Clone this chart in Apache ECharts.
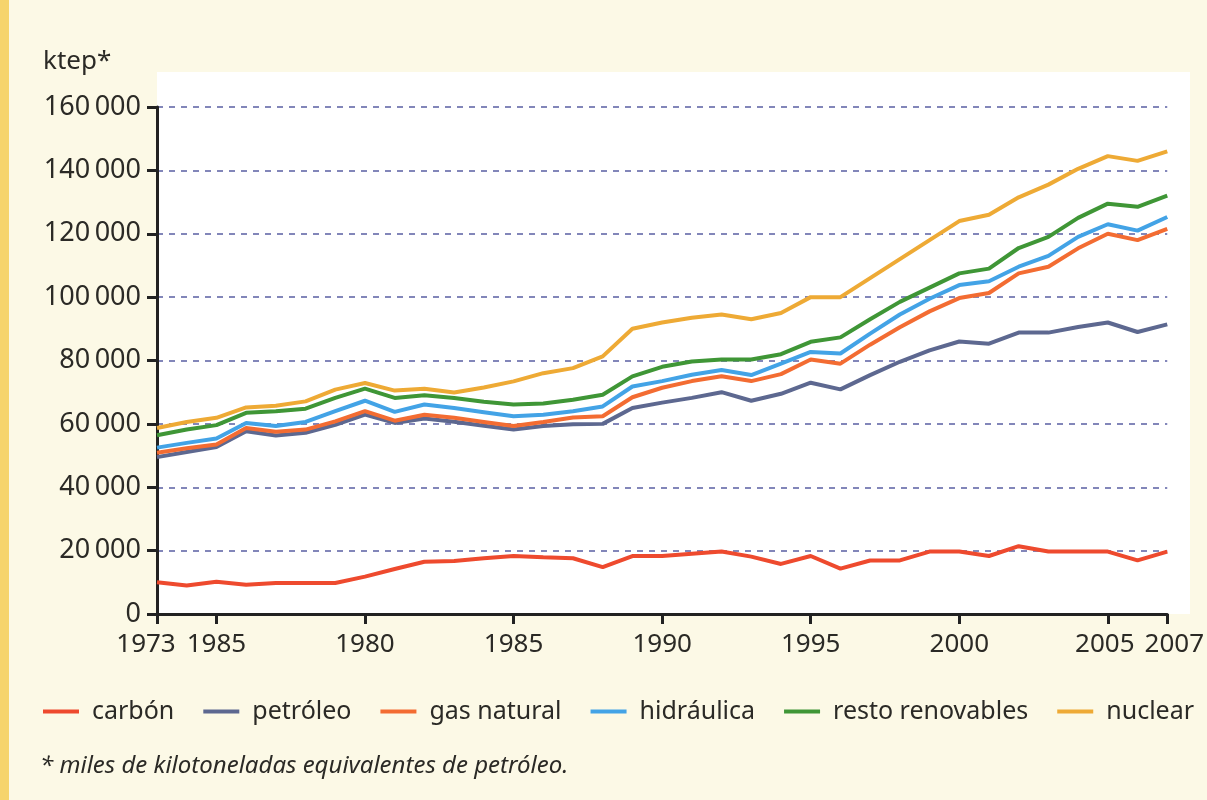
<!DOCTYPE html>
<html>
<head>
<meta charset="utf-8">
<script src="https://cdn.jsdelivr.net/npm/echarts@6/dist/echarts.min.js"></script>
<style>
html,body{margin:0;padding:0;background:#fcf9e6;}
#c{width:1207px;height:800px;}
</style>
</head>
<body>
<div id="c"></div>
<script>
const years = ['1973','1974','1975','1976','1977','1978','1979','1980','1981','1982','1983','1984','1985','1986','1987','1988','1989','1990','1991','1992','1993','1994','1995','1996','1997','1998','1999','2000','2001','2002','2003','2004','2005','2006','2007'];
// tick labels as printed in the original (index -> label)
const tickLabels = {0:'1973',2:'1985',7:'1980',12:'1985',17:'1990',22:'1995',27:'2000',32:'2005',34:'2007'};
const seriesNames = ['carbón','petróleo','gas natural','hidráulica','resto renovables','nuclear'];
const carbon = [10000,9000,10200,9200,9800,9800,9800,11800,14200,16500,16700,17600,18300,17900,17600,14800,18300,18300,19000,19700,18100,15800,18300,14300,16900,16900,19700,19700,18300,21400,19700,19700,19700,16900,19700];
const petroleo = [49500,51100,52700,57700,56300,57200,59700,62900,60300,61700,60700,59400,58200,59300,59900,60000,65000,66700,68200,70000,67300,69500,73000,70900,75400,79600,83200,86000,85300,88800,88800,90600,92000,89000,91400];
const gasNatural = [50900,52300,53500,58700,57500,58200,60800,64000,61000,62900,61900,60600,59300,60600,62000,62400,68400,71400,73500,75000,73500,75700,80300,79000,85000,90500,95500,99700,101300,107500,109600,115400,120000,118000,121500];
const hidraulica = [52500,54000,55400,60300,59300,60600,64000,67300,63800,66100,65000,63700,62400,62900,64000,65500,71800,73500,75500,77000,75400,79000,82700,82200,88500,94500,99500,103800,105000,109600,113000,119000,123000,121000,125300];
const restoRenovables = [56400,58200,59600,63500,64000,64800,68200,71100,68200,69000,68200,67000,66100,66400,67600,69200,75000,78000,79700,80300,80300,82000,85900,87300,93000,98500,103000,107500,109000,115500,119000,125000,129500,128500,132000];
const nuclear = [58700,60600,61900,65200,65700,67100,70800,72900,70500,71100,69900,71500,73400,76000,77600,81300,90000,92000,93500,94500,93000,95000,100000,100000,106000,112000,118000,124000,126000,131500,135500,140500,144500,143000,146000];
const yTicks = [0,20000,40000,60000,80000,100000,120000,140000,160000];

const colors = ['#ee4a2e','#5d6890','#f36c32','#43a3e6','#3f9636','#eeaa35'];
const dataSets = [carbon, petroleo, gasNatural, hidraulica, restoRenovables, nuclear];
const FONT = '"Noto Sans", "Open Sans", sans-serif';
const LBL = {fontFamily: FONT, fontSize: 26, color: '#2b2a26'};

const chart = echarts.init(document.getElementById('c'));
chart.setOption({
  backgroundColor: '#fcf9e6',
  animation: false,
  graphic: [
    {type:'rect', left:0, top:0, shape:{x:0,y:0,width:9,height:800}, style:{fill:'#f6d46c'}, z:-10},
    {type:'rect', shape:{x:157,y:72,width:1033,height:542}, style:{fill:'#ffffff'}, z:-5}
  ],
  title: {
    text: 'ktep*', left: 38, top: 44,
    textStyle: {fontFamily: FONT, fontSize: 26, fontWeight: 'normal', color: '#2b2a26'}
  },
  grid: {left: 157, right: 39, top: 107, bottom: 186, containLabel: false},
  legend: {
    left: 38, top: 694, itemWidth: 36, itemHeight: 4, itemGap: 29, icon: 'rect',
    data: seriesNames,
    textStyle: {fontFamily: FONT, fontSize: 25, color: '#2b2a26', padding: [0,0,0,8]}
  },
  xAxis: {
    type: 'category', data: years, boundaryGap: false,
    axisLine: {lineStyle: {color: '#222', width: 3}},
    axisTick: {
      length: 10, lineStyle: {color: '#222', width: 3},
      interval: function(i){ return tickLabels[i] !== undefined; }
    },
    axisLabel: {
      interval: function(i){ return tickLabels[i] !== undefined; },
      formatter: function(v, i){
        const t = tickLabels[i] || '';
        if (i === 0) return '{l|' + t + '}';
        if (i === 34) return '{r|' + t + '}';
        if (i === 32) return '{l2|' + t + '}';
        return t;
      },
      rich: {
        l: Object.assign({padding: [0, 22, 0, 0]}, LBL),
        l2: Object.assign({padding: [0, 6, 0, 0]}, LBL),
        r: Object.assign({padding: [0, 0, 0, 14]}, LBL)
      },
      fontFamily: FONT, fontSize: 26, color: '#2b2a26', margin: 18
    },
    splitLine: {show: false}
  },
  yAxis: {
    type: 'value', min: 0, max: 160000, interval: 20000,
    axisLine: {show: true, lineStyle: {color: '#222', width: 3}},
    axisTick: {show: true, length: 10, lineStyle: {color: '#222', width: 3}},
    axisLabel: {
      formatter: function(v){ return yTicks.indexOf(v) < 0 ? '' : (v === 0 ? '0' : String(v/1000) + '\u2009000'); },
      fontFamily: FONT, fontSize: 27, color: '#2b2a26', margin: 16
    },
    splitLine: {show: true, lineStyle: {color: '#5a5fa3', width: 1.5, type: [6,6]}}
  },
  series: seriesNames.map(function(n, k){
    return {
      name: n, type: 'line', data: dataSets[k], showSymbol: false, symbol: 'none',
      lineStyle: {color: colors[k], width: 4}, itemStyle: {color: colors[k]},
      z: 2 + k
    };
  })
});
</script>
<div style="position:absolute;left:40px;top:747px;font-family:'Noto Sans','Open Sans',sans-serif;font-style:italic;font-size:24px;color:#2b2a26;">* miles de kilotoneladas equivalentes de petróleo.</div>
</body>
</html>
